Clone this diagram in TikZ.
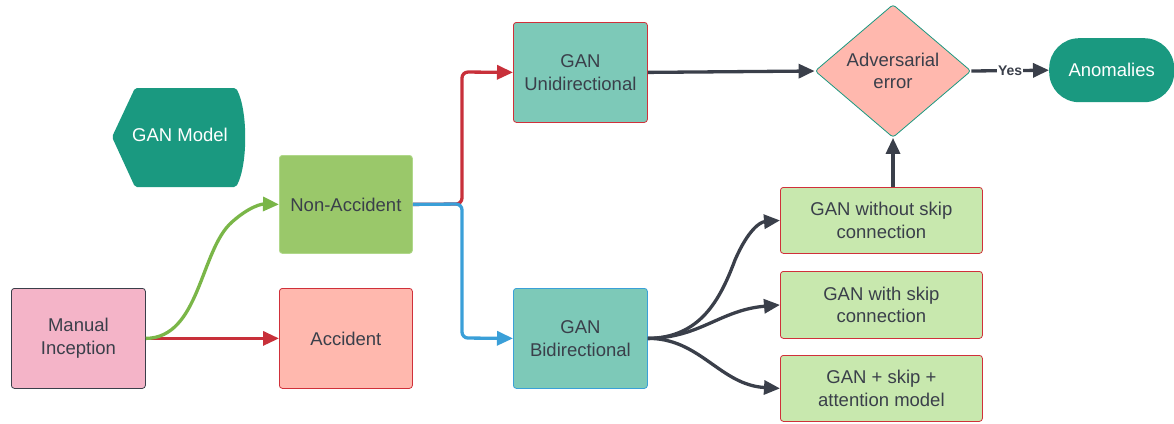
\documentclass[tikz,border=0pt]{standalone}
\usepackage{fontspec}
\setmainfont{Liberation Sans}
\usetikzlibrary{shapes.geometric,arrows.meta,positioning}
\definecolor{txt}{HTML}{3A3F4A}
\definecolor{teal}{HTML}{1A9980}
\definecolor{tealL}{HTML}{7DC9B8}
\definecolor{pinkF}{HTML}{F4B4C8}
\definecolor{greenF}{HTML}{9AC86A}
\definecolor{greenB}{HTML}{B0D88A}
\definecolor{salmon}{HTML}{FFB8AE}
\definecolor{redB}{HTML}{D0303A}
\definecolor{blueB}{HTML}{3AA0D8}
\definecolor{lgreen}{HTML}{C8E8AE}
\definecolor{arrG}{HTML}{7AB648}
\definecolor{arrR}{HTML}{C8303A}
\definecolor{arrB}{HTML}{3A9FD8}
\definecolor{arrD}{HTML}{3A3F4A}
\tikzset{
  box/.style={draw, rounded corners=3pt, line width=0.8pt, text=txt, align=center,
    font=\fontsize{18.5}{22.5}\selectfont, inner sep=0pt, anchor=north west},
  conn/.style={line width=3.3pt, -{Triangle[length=16pt,width=14pt]}},
}
\begin{document}
\begin{tikzpicture}[x=1pt,y=-1pt]
\useasboundingbox (0,0) rectangle (1174,423);
% GAN Model shape
\fill[teal, rounded corners=2pt] (135,88) -- (236,88) .. controls (248,110) and (248,165) .. (236,187) -- (135,187) -- (112,137) -- cycle;
\node[text=white, font=\fontsize{18.5}{22.5}\selectfont] (gm) at (180,135) {GAN Model};
% boxes
\node[box, fill=pinkF, draw=txt, minimum width=134pt, minimum height=100pt] (mi) at (11,288) {Manual\\Inception};
\node[box, fill=greenF, draw=greenB, minimum width=133pt, minimum height=98pt] (na) at (279,155) {Non-Accident};
\node[box, fill=salmon, draw=redB, minimum width=133pt, minimum height=100pt] (ac) at (279,288) {Accident};
\node[box, fill=tealL, draw=redB, minimum width=134pt, minimum height=100pt] (gu) at (513,22) {GAN\\Unidirectional};
\node[box, fill=tealL, draw=blueB, minimum width=134pt, minimum height=100pt] (gb) at (513,288) {GAN\\Bidirectional};
\node[box, fill=lgreen, draw=redB, minimum width=202pt, minimum height=66pt] (g1) at (780,187) {GAN without skip\\connection};
\node[box, fill=lgreen, draw=redB, minimum width=202pt, minimum height=67pt] (g2) at (780,271) {GAN with skip\\connection};
\node[box, fill=lgreen, draw=redB, minimum width=202pt, minimum height=66pt] (g3) at (780,355) {GAN + skip +\\attention model};
% diamond
\node[diamond, draw=teal, fill=salmon, line width=0.8pt, rounded corners=3pt, text=txt, align=center,
  font=\fontsize{18.5}{22.5}\selectfont, minimum width=156pt, minimum height=133pt, inner sep=0pt] (ad) at (893,71) {Adversarial\\error};
% anomalies
\node[fill=teal, text=white, rounded corners=30pt, minimum width=125pt, minimum height=64pt,
  font=\fontsize{18.5}{22.5}\selectfont, inner sep=0pt, anchor=north west] (an) at (1049,38) {Anomalies};
% connectors
\draw[conn, arrR] (mi.east) -- (ac.west);
\draw[conn, arrG] (mi.east) .. controls (200,338) and (200,250) .. (232,222) .. controls (250,206) and (262,204) .. (na.west);
\draw[conn, arrR, rounded corners=6pt] (na.east) -- (462,204) -- (462,72) -- (gu.west);
\draw[conn, arrB, rounded corners=6pt] (na.east) -- (462,204) -- (462,338) -- (gb.west);
\draw[conn, arrD] (gu.east) -- (ad.west);
\draw[conn, arrD] (ad.east) -- node[font=\bfseries\fontsize{14}{16}\selectfont, text=txt, inner sep=1pt, fill=white]{Yes} (an.west);
\draw[conn, arrD] (ad.south |- g1.north) -- (ad.south);
\draw[conn, arrD] (gb.east) .. controls (700,338) and (720,300) .. (735,260) .. controls (748,230) and (760,222) .. (g1.west);
\draw[conn, arrD] (gb.east) .. controls (700,338) and (720,310) .. (g2.west);
\draw[conn, arrD] (gb.east) .. controls (700,338) and (720,385) .. (g3.west);
\end{tikzpicture}
\end{document}
